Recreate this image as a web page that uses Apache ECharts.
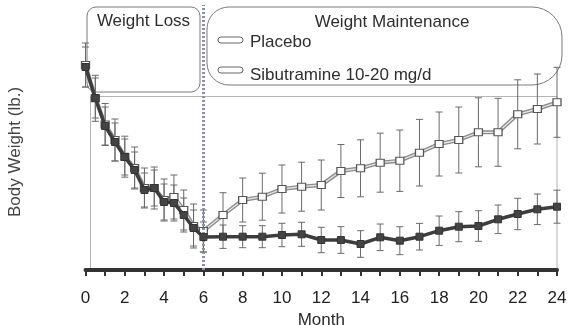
<!DOCTYPE html>
<html>
<head>
<meta charset="utf-8">
<script src="https://cdn.jsdelivr.net/npm/echarts@6/dist/echarts.min.js"></script>
<style>
html,body{margin:0;padding:0;background:#fff;}
#c{width:568px;height:325px;}
</style>
</head>
<body>
<div id="c"></div>
<script>
// Months (weight loss phase every half month, then monthly)
const months = [0,0.5,1,1.5,2,2.5,3,3.5,4,4.5,5,5.5,6,7,8,9,10,11,12,13,14,15,16,17,18,19,20,21,22,23,24];
// Body weight (relative units, y axis unlabeled in the original)
const placebo = [205,171.7,145.5,130,113.3,102,82,82,70,73,60,44,39,55,70,73.3,81,83.3,85,99,101.7,107.3,109.3,117.3,126,130,137.7,137.7,155.7,161,167.7];
const placeboErr = [22,23,21,21,20.5,21,20,21,21,22,20,22,21,22.3,22,23.5,24,24.5,25,26.5,28.5,29.5,30.7,33.3,32,33,34.5,34,34.5,35,35];
const sibutramine = [203,172,144,128,113,100,80,82,68,67,55,42,33,33.3,33.3,33.3,35,35.7,30,30,26,32.7,29.3,33.3,39.3,43.3,44,50.7,56,60.7,63.3];
const sibutramineErr = [20,20,19,19,18,18,17,18,18,18,17,18,15,11.7,11,11,11.7,12,12.7,13.3,13.3,13.3,14,13.3,14.7,15,15.3,14.3,15.7,15.3,16.5];
const xTickLabels = ['0','2','4','6','8','10','12','14','16','18','20','22','24'];
const phaseSplit = 6;

const FONT = '"Liberation Sans", Arial, sans-serif';
const chart = echarts.init(document.getElementById('c'), null, {renderer:'canvas'});

function errSeries(mean, err, name) {
  return {
    type: 'custom',
    name: name,
    silent: true,
    z: 1,
    data: months.map((m, i) => [m, mean[i], err[i]]),
    renderItem: function (params, api) {
      const x = api.value(0), m = api.value(1), e = api.value(2);
      const t = api.coord([x, m + e]);
      const b = api.coord([x, m - e]);
      const w = 3.5;
      const st = {stroke: '#6a6a6a', lineWidth: 1};
      return {type: 'group', children: [
        {type: 'line', shape: {x1: t[0], y1: t[1], x2: b[0], y2: b[1]}, style: st},
        {type: 'line', shape: {x1: t[0]-w, y1: t[1], x2: t[0]+w, y2: t[1]}, style: st},
        {type: 'line', shape: {x1: b[0]-w, y1: b[1], x2: b[0]+w, y2: b[1]}, style: st}
      ]};
    }
  };
}

const option = {
  animation: false,
  backgroundColor: '#fff',
  grid: {left: 85.5, right: 11, top: 5, bottom: 55, containLabel: false, outerBoundsMode: 'none'},
  xAxis: {
    type: 'value', min: 0, max: 24, interval: 1,
    name: 'Month', nameLocation: 'middle', nameGap: 37,
    nameTextStyle: {fontFamily: FONT, fontSize: 17, color: '#2a2a2a'},
    axisLine: {show: true, lineStyle: {color: '#333', width: 4}},
    axisTick: {show: true, length: 6, lineStyle: {color: '#333', width: 2}},
    axisLabel: {
      margin: 20, fontFamily: FONT, fontSize: 17, color: '#222',
      formatter: function (v) { return v % 2 === 0 ? xTickLabels[v / 2] : ''; }
    },
    splitLine: {show: false}
  },
  yAxis: {
    type: 'value', min: 0, max: 265, show: false
  },
  series: [
    errSeries(placebo, placeboErr, 'placeboErr'),
    errSeries(sibutramine, sibutramineErr, 'sibErr'),
    {
      type: 'line', name: 'PlaceboOutline', silent: true, z: 3,
      data: months.map((m, i) => [m, placebo[i]]),
      showSymbol: false, symbol: 'none',
      lineStyle: {color: '#8c8c8c', width: 4},
      markLine: {
        silent: true, symbol: 'none', label: {show: false},
        lineStyle: {color: '#8393a8', type: [2, 2], width: 3},
        data: [{xAxis: phaseSplit}]
      }
    },
    {
      type: 'line', name: 'Placebo', silent: true, z: 4,
      data: months.map((m, i) => [m, placebo[i]]),
      symbol: 'rect', symbolSize: [8, 7],
      itemStyle: {color: '#ffffff', borderColor: '#555', borderWidth: 1.2},
      lineStyle: {color: '#e6e6e6', width: 1.3}
    },
    {
      type: 'line', name: 'Sibutramine', silent: true, z: 5,
      data: months.map((m, i) => [m, sibutramine[i]]),
      symbol: 'rect', symbolSize: 7,
      itemStyle: {color: '#444', borderColor: '#333', borderWidth: 1},
      lineStyle: {color: '#3d3d3d', width: 3.5}
    }
  ],
  graphic: [
    {type: 'rect', z: 0, shape: {x: 90.5, y: 96.5, width: 466.5, height: 173}, style: {fill: 'none', stroke: '#b5b5b5', lineWidth: 1}},
    {type: 'rect', shape: {x: 87, y: 7, width: 113, height: 85, r: 9}, style: {fill: 'none', stroke: '#7a7a7a', lineWidth: 1}},
    {type: 'text', style: {x: 143.5, y: 21, text: 'Weight Loss', align: 'center', verticalAlign: 'middle', font: '17px ' + FONT, fill: '#2e2e2e'}},
    {type: 'rect', shape: {x: 207, y: 7, width: 355, height: 78, r: [22, 30, 30, 22]}, style: {fill: 'none', stroke: '#7a7a7a', lineWidth: 1}},
    {type: 'text', style: {x: 392, y: 22, text: 'Weight Maintenance', align: 'center', verticalAlign: 'middle', font: '17px ' + FONT, fill: '#2e2e2e'}},
    {type: 'rect', shape: {x: 218, y: 37, width: 25, height: 6, r: 3}, style: {fill: '#fff', stroke: '#666', lineWidth: 1}},
    {type: 'text', style: {x: 250, y: 42, text: 'Placebo', align: 'left', verticalAlign: 'middle', font: '17px ' + FONT, fill: '#2e2e2e'}},
    {type: 'rect', shape: {x: 218, y: 67, width: 25, height: 6, r: 3}, style: {fill: '#fff', stroke: '#666', lineWidth: 1}},
    {type: 'text', style: {x: 250, y: 75, text: 'Sibutramine 10-20 mg/d', align: 'left', verticalAlign: 'middle', font: '17px ' + FONT, fill: '#2e2e2e'}},
    {type: 'text', x: 15, y: 152, rotation: Math.PI / 2, style: {x: 0, y: 0, text: 'Body Weight (lb.)', align: 'center', verticalAlign: 'middle', font: '17px ' + FONT, fill: '#444'}}
  ]
};
chart.setOption(option);
</script>
</body>
</html>
